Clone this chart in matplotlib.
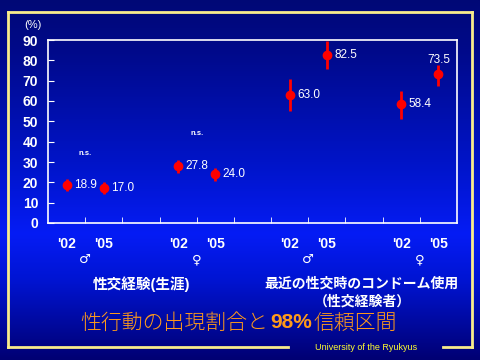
import numpy as np
import matplotlib
matplotlib.use("Agg")
import matplotlib.pyplot as plt
from matplotlib.colors import LinearSegmentedColormap
from matplotlib.lines import Line2D

plt.rcParams['font.family'] = ['Liberation Sans', 'Noto Sans CJK JP', 'DejaVu Sans']

# data
positions = [0.5, 1.5, 3.5, 4.5, 6.5, 7.5, 9.5, 10.5]
values = [18.9, 17.0, 27.8, 24.0, 63.0, 82.5, 58.4, 73.5]
lower = [15.9, 14.3, 24.4, 20.8, 55.1, 75.9, 51.2, 67.4]
upper = [21.5, 20.3, 31.0, 26.9, 70.7, 89.6, 64.9, 77.7]
year_labels = ["'02", "'05", "'02", "'05", "'02", "'05", "'02", "'05"]
sex_pos = [1.0, 4.0, 7.0, 10.0]
sex_labels = ["♂", "♀", "♂", "♀"]
ns_pos = [(1.0, 34), (4.0, 44)]

fig = plt.figure(figsize=(4.8, 3.6), dpi=100)

# background gradient
bg = fig.add_axes([0, 0, 1, 1], zorder=-10)
cmap = LinearSegmentedColormap.from_list("bg", [
    (0.00, (0/255, 8/255, 118/255)),
    (0.15, (0/255, 10/255, 140/255)),
    (0.45, (0/255, 20/255, 200/255)),
    (0.65, (5/255, 28/255, 245/255)),
    (0.78, (0/255, 20/255, 210/255)),
    (1.00, (0/255, 0/255, 115/255)),
])
grad = np.linspace(0, 1, 256).reshape(-1, 1)
bg.imshow(grad, aspect='auto', cmap=cmap, extent=[0, 1, 0, 1], origin='upper')
bg.set_axis_off()

# yellow frame with gap for the footer
yc = '#f8ec8c'
fx = lambda p: p / 480
fy = lambda p: 1 - p / 360
for xs, ys in [([8, 472], [12, 12]), ([8, 8], [12, 347]), ([472, 472], [12, 347]),
               ([8, 288], [347, 347]), ([443, 472], [347, 347])]:
    fig.add_artist(Line2D([fx(x) for x in xs], [fy(y) for y in ys], color=yc, lw=2))

ax = fig.add_axes([48/480, 1 - 223/360, 409/480, 183/360])
ax.patch.set_alpha(0)
ax.set_xlim(0, 11)
ax.set_ylim(0, 90)
for s in ax.spines.values():
    s.set_color('white')
    s.set_linewidth(1.2)

yerr = [np.array(values) - np.array(lower), np.array(upper) - np.array(values)]
ax.errorbar(positions, values, yerr=yerr, fmt='o', color='#ff0000', ms=6,
            elinewidth=2, capsize=0, zorder=3)

for x, v in zip(positions, values):
    if v == 73.5:
        ax.text(x, v + 3.5, f"{v:.1f}", color='white', fontsize=8.5, ha='center', va='bottom')
    else:
        ax.text(x + 0.2, v, f"{v:.1f}", color='white', fontsize=8.5, ha='left', va='center')

for x, y in ns_pos:
    ax.text(x, y, "n.s.", color='white', fontsize=5.5, fontweight='bold', ha='center', va='center')

ax.set_yticks(range(0, 91, 10))
ax.tick_params(axis='y', direction='in', colors='white', labelsize=10, length=4, pad=7)
for t in ax.get_yticklabels():
    t.set_fontweight('bold')

ax.set_xticks(positions)
ax.set_xticklabels(year_labels, fontsize=10, fontweight='bold', color='white')
ax.tick_params(axis='x', length=0, pad=10)
ax.set_xticks(range(1, 11), minor=True)
ax.tick_params(axis='x', which='minor', direction='in', colors='white', length=4)

for x, s in zip(sex_pos, sex_labels):
    ax.text(x, -0.2, s, transform=ax.get_xaxis_transform(), color='white',
            fontsize=9.5, ha='center', va='center', family=['DejaVu Sans'])

fig.text(33/480, fy(25), "(%)", color='white', fontsize=8, ha='center', va='center')

fig.text(142/480, fy(284), "性交経験(生涯)", color='white', fontsize=10.5,
         fontweight='bold', ha='center', va='center')
fig.text(362/480, fy(284), "最近の性交時のコンドーム使用", color='white', fontsize=10,
         fontweight='bold', ha='center', va='center')
fig.text(362/480, fy(302), "（性交経験者）", color='white', fontsize=10,
         fontweight='bold', ha='center', va='center')

oc = '#ff9a1a'
fig.text(268/480, fy(323), "性行動の出現割合と", color=oc, fontsize=15,
         ha='right', va='center', fontweight='light')
fig.text(270/480, fy(323), "98%", color=oc, fontsize=15, ha='left', va='center',
         fontweight='bold')
fig.text(314/480, fy(323), "信頼区間", color=oc, fontsize=15, ha='left', va='center',
         fontweight='light')

fig.text(366/480, fy(348), "University of the Ryukyus", color='#ffff30', fontsize=6.5,
         ha='center', va='center')

fig.savefig("out.png", dpi=100)
